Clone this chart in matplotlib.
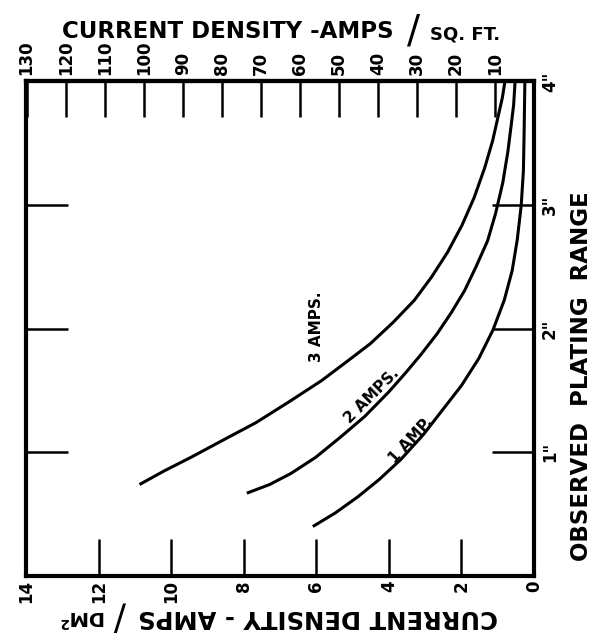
import matplotlib.pyplot as plt
import numpy as np

plt.rcParams.update({
    "font.family": "DejaVu Sans",
    "font.weight": "bold",
})

ASF_PER_ADM2 = 9.29  # 1 A/dm2 = 9.29 A/sq.ft.

# curves: current density (A/dm2, bottom scale) vs position on panel (inches)
amp3_cd = [10.88, 10.20, 9.46, 8.57, 7.67, 6.75, 5.86, 5.18, 4.51, 3.89,
           3.30, 2.82, 2.38, 1.98, 1.65, 1.36, 1.14, 0.97, 0.87, 0.80]
amp3_pos = [0.74, 0.85, 0.96, 1.10, 1.24, 1.41, 1.58, 1.73, 1.88, 2.05,
            2.23, 2.42, 2.62, 2.84, 3.06, 3.30, 3.52, 3.74, 3.87, 4.00]

amp2_cd = [7.92, 7.29, 6.70, 6.02, 5.35, 4.67, 4.00, 3.52, 3.12, 2.67,
           2.28, 1.91, 1.60, 1.28, 1.06, 0.86, 0.72, 0.63, 0.56, 0.52]
amp2_pos = [0.67, 0.74, 0.83, 0.96, 1.12, 1.29, 1.49, 1.65, 1.79, 1.96,
            2.13, 2.31, 2.50, 2.71, 2.93, 3.18, 3.43, 3.64, 3.81, 4.00]

amp1_cd = [6.10, 5.48, 4.86, 4.27, 3.68, 3.06, 2.53, 2.00, 1.52, 1.13,
           0.82, 0.60, 0.46, 0.35, 0.29, 0.27, 0.25]
amp1_pos = [0.40, 0.51, 0.64, 0.78, 0.94, 1.14, 1.34, 1.54, 1.76, 1.99,
            2.23, 2.47, 2.72, 3.00, 3.28, 3.60, 4.00]

curve_labels = ["3 AMPS.", "2 AMPS.", "1 AMP."]

bottom_ticks = [14, 12, 10, 8, 6, 4, 2, 0]
top_ticks = [130, 120, 110, 100, 90, 80, 70, 60, 50, 40, 30, 20, 10]
inch_ticks = [1, 2, 3, 4]
inch_labels = ['1"', '2"', '3"', '4"']


def to_asf(x):
    return x * ASF_PER_ADM2


def to_adm2(x):
    return x / ASF_PER_ADM2


fig = plt.figure(figsize=(6.01, 6.39), dpi=100)
ax = fig.add_axes([0.044, 0.0986, 0.8444, 0.7739])

for cd, pos in ((amp3_cd, amp3_pos), (amp2_cd, amp2_pos), (amp1_cd, amp1_pos)):
    ax.plot(cd, pos, color="black", lw=2.2, solid_capstyle="butt")

ax.text(6.0, 2.02, curve_labels[0], rotation=90, ha="center", va="center", fontsize=11)
ax.text(4.47, 1.46, curve_labels[1], rotation=45, ha="center", va="center", fontsize=11)
ax.text(3.39, 1.10, curve_labels[2], rotation=47, ha="center", va="center", fontsize=11)

ax.set_xlim(14, 0)
ax.set_ylim(0, 4)
for sp in ax.spines.values():
    sp.set_linewidth(3)

ax.set_xticks(bottom_ticks, [str(t) for t in bottom_ticks])
ax.tick_params(axis="x", direction="in", length=27, width=1.8, pad=3,
               labelsize=12, labelrotation=90)

ax.set_yticks(inch_ticks, inch_labels)
ax.tick_params(axis="y", left=True, right=True, labelleft=False, labelright=True,
               direction="in", length=30, width=1.8, pad=5, labelsize=12,
               labelrotation=90)
for lab in ax.get_yticklabels():
    lab.set_va("center")

sec = ax.secondary_xaxis("top", functions=(to_asf, to_adm2))
sec.set_xticks(top_ticks, [str(t) for t in top_ticks])
sec.tick_params(direction="in", length=26, width=1.8, pad=5, labelsize=12,
                labelrotation=90)
sec.spines["top"].set_linewidth(3)

# top title
fig.text(62 / 601, 1 - 38 / 639, "CURRENT DENSITY -AMPS", ha="left", va="baseline",
         fontsize=16.5)
fig.text(414 / 601, 1 - 32 / 639, "/", ha="center", va="center", fontsize=28,
         fontweight="normal")
fig.text(430 / 601, 1 - 40 / 639, "SQ. FT.", ha="left", va="baseline", fontsize=13)

# bottom title, printed upside down
fig.text(498 / 601, 1 - 617 / 639, "CURRENT DENSITY - AMPS", rotation=180,
         ha="right", va="center", fontsize=17.5)
fig.text(120 / 601, 1 - 615 / 639, "/", rotation=180, ha="center", va="center",
         fontsize=26, fontweight="normal")
fig.text(60 / 601, 1 - 617 / 639, "DM$^2$", rotation=180, ha="left", va="center",
         fontsize=14)

# right title
fig.text(581 / 601, 1 - 376 / 639, "OBSERVED  PLATING  RANGE", rotation=90,
         ha="center", va="center", fontsize=16.5)

fig.savefig("out.png", dpi=100)
